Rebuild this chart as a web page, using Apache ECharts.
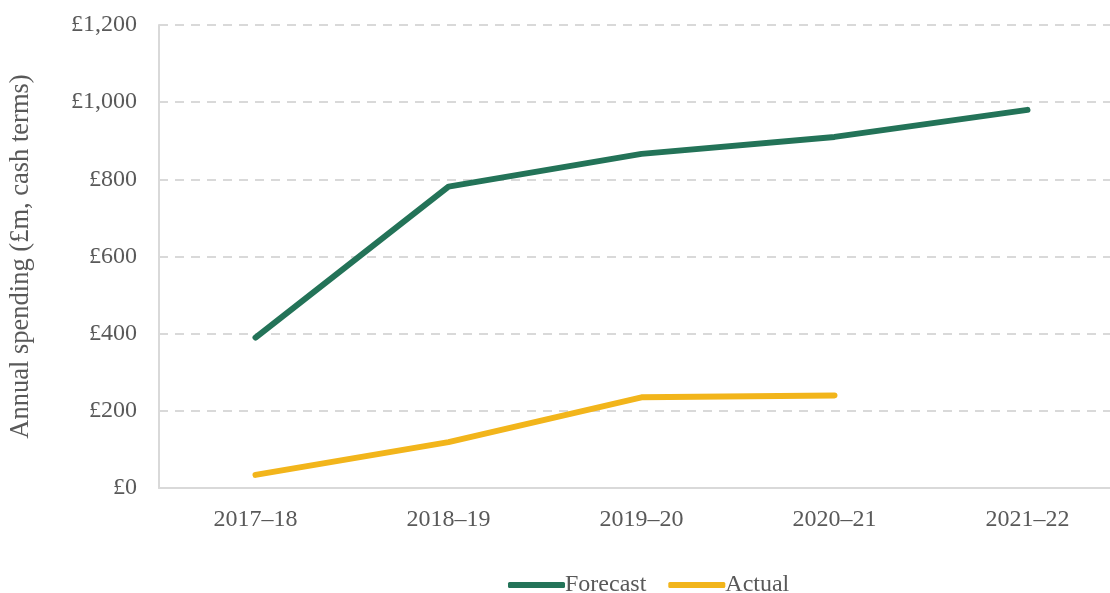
<!DOCTYPE html>
<html><head><meta charset="utf-8">
<script src="https://cdn.jsdelivr.net/npm/echarts@6/dist/echarts.min.js"></script>
<style>html,body{margin:0;padding:0;background:#fff;overflow:hidden}#c{width:1124px;height:593px}</style>
</head><body><div id="c"></div>
<script>
const categories = ['2017–18','2018–19','2019–20','2020–21','2021–22'];
const forecast = [390, 781, 866, 910, 980];
const actual = [34, 119, 235, 240, null];
const yTicks = [0, 200, 400, 600, 800, 1000, 1200];

const font = 'Liberation Serif';
const chart = echarts.init(document.getElementById('c'));
chart.setOption({
  animation: false,
  grid: {left: 159, top: 25, right: 0, height: 463, containLabel: false},
  legend: {
    top: 568, left: 503,
    itemWidth: 57, itemHeight: 6, itemGap: 22,
    icon: 'roundRect',
    textStyle: {fontFamily: font, fontSize: 24, color: '#595959', padding: [0,0,0,-5]},
    data: ['Forecast', 'Actual']
  },
  xAxis: {
    type: 'category', data: categories, boundaryGap: true,
    axisLine: {lineStyle: {color: '#d9d9d9', width: 2}},
    axisTick: {show: false},
    axisLabel: {fontFamily: font, fontSize: 24, color: '#595959', margin: 20}
  },
  yAxis: {
    type: 'value', min: 0, max: 1200, interval: 200,
    name: 'Annual spending (£m, cash terms)', nameLocation: 'middle', nameGap: 124,
    nameTextStyle: {fontFamily: font, fontSize: 26.5, color: '#595959'},
    axisLine: {show: true, lineStyle: {color: '#d9d9d9', width: 2}},
    axisTick: {show: false},
    splitLine: {lineStyle: {color: '#d9d9d9', type: [9, 7], width: 2}},
    axisLabel: {fontFamily: font, fontSize: 24, color: '#595959', margin: 22,
      formatter: v => yTicks.includes(v) ? '£' + v.toLocaleString('en-GB') : ''}
  },
  series: [
    {name: 'Forecast', type: 'line', data: forecast, symbol: 'none',
     lineStyle: {color: '#237358', width: 6, cap: 'round'}, itemStyle: {color: '#237358'}},
    {name: 'Actual', type: 'line', data: actual, symbol: 'none',
     lineStyle: {color: '#F2B51B', width: 6, cap: 'round'}, itemStyle: {color: '#F2B51B'}}
  ]
});
</script></body></html>
